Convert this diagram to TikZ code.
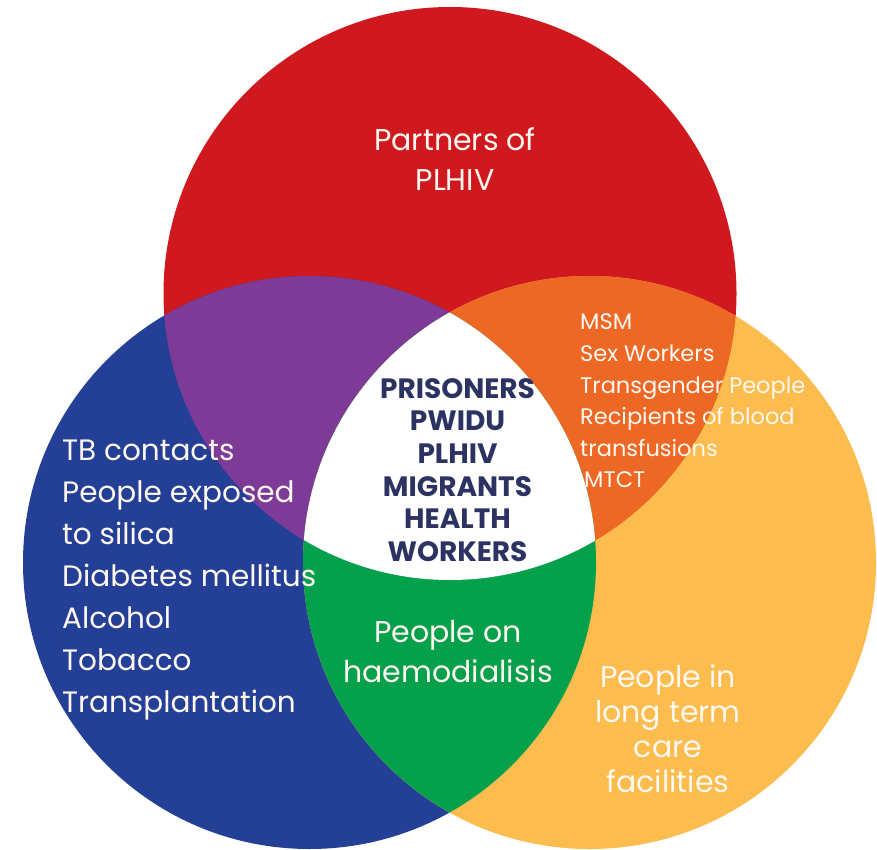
\documentclass[tikz,border=0pt]{standalone}
\usepackage{fontspec}
\setmainfont{Poppins}
\definecolor{cred}{HTML}{D0191F}
\definecolor{cblue}{HTML}{233F96}
\definecolor{cyellow}{HTML}{FCBC4E}
\definecolor{cpurple}{HTML}{7D3B97}
\definecolor{corange}{HTML}{EE6825}
\definecolor{cgreen}{HTML}{04A04B}
\definecolor{cnavy}{HTML}{2C3363}
\definecolor{ctext}{HTML}{FFF8F0}
\begin{document}
\begin{tikzpicture}[x=1pt,y=-1pt,
  lbl/.style={text=ctext,inner sep=0pt,font=\fontsize{30}{40}\selectfont},
  listl/.style={lbl,align=left,font=\fontsize{29.5}{42}\selectfont},
  listr/.style={lbl,align=left,font=\fontsize{22.5}{31.6}\selectfont},
  ctr/.style={lbl,align=center},
  core/.style={inner sep=0pt,align=center,text=cnavy,font=\fontsize{28}{32.6}\selectfont\bfseries}]
\useasboundingbox (0,0) rectangle (877,850);
\fill[white] (0,0) rectangle (877,850);
\def\R{286.5}
\coordinate (cr) at (450,293.5);
\coordinate (cb) at (309.5,562.5);
\coordinate (cy) at (589.5,562.5);
\fill[cred] (cr) circle[radius=\R];
\fill[cblue] (cb) circle[radius=\R];
\fill[cyellow] (cy) circle[radius=\R];
\begin{scope}
  \clip (cr) circle[radius=\R];
  \fill[cpurple] (cb) circle[radius=\R];
  \fill[corange] (cy) circle[radius=\R];
\end{scope}
\begin{scope}
  \clip (cb) circle[radius=\R];
  \fill[cgreen] (cy) circle[radius=\R];
  \clip (cr) circle[radius=\R];
  \fill[white] (cy) circle[radius=\R];
\end{scope}
\node[ctr] (partners) at (455,159) {Partners of\\PLHIV};
\node[listl,anchor=west] (blue) at (62,580) {TB contacts\\People exposed\\to silica\\Diabetes mellitus\\Alcohol\\Tobacco\\Transplantation};
\node[listr,anchor=west] (orange) at (580,401) {MSM\\Sex Workers\\Transgender People\\Recipients of blood\\transfusions\\\hspace*{4pt}MTCT};
\node[core] (center) at (457.5,470) {PRISONERS\\PWIDU\\PLHIV\\MIGRANTS\\HEALTH\\WORKERS};
\node[ctr] (green) at (448,652) {People on\\haemodialisis};
\node[ctr,font=\fontsize{30}{35}\selectfont] (yellow) at (668,729) {People in\\long term\\care\\facilities};
\end{tikzpicture}
\end{document}
